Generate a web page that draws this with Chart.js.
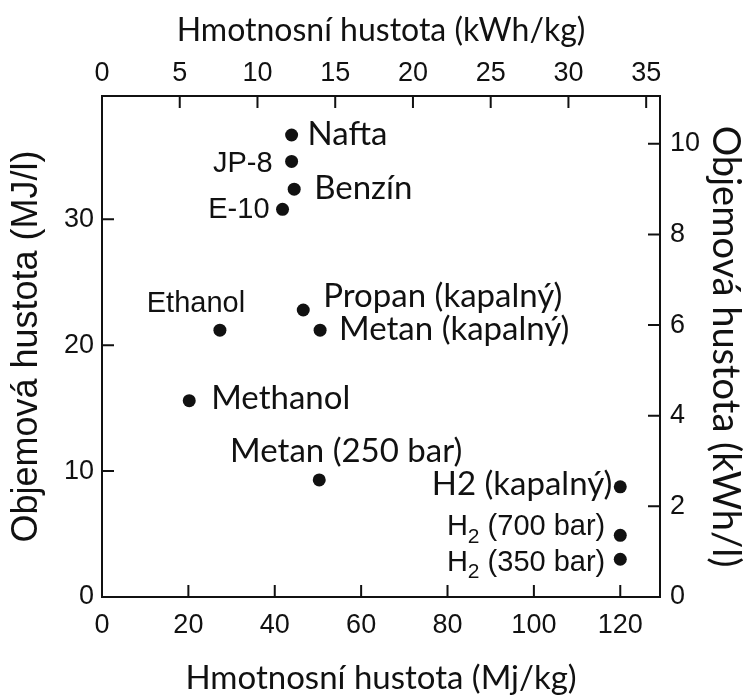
<!DOCTYPE html>
<html lang="cs">
<head>
    <meta charset="UTF-8">
    <title>Hustota energie paliv</title>
    <script src="https://cdn.jsdelivr.net/npm/chart.js"></script>
    <style>
        body { margin: 0; background: #fff; }
        #wrap { width: 748px; height: 698px; }
    </style>
</head>
<body>
    <div id="wrap"><canvas id="chart" width="748" height="698"></canvas></div>

    <script>
        // data (MJ/kg, MJ/l)
        const fuels = ['Nafta', 'JP-8', 'Benzín', 'E-10', 'Propan (kapalný)', 'Ethanol',
                       'Metan (kapalný)', 'Methanol', 'Metan (250 bar)', 'H2 (kapalný)',
                       'H₂ (700 bar)', 'H₂ (350 bar)'];
        const massDensity = [43.9, 43.9, 44.5, 41.8, 46.6, 27.3, 50.5, 20.2, 50.3, 120, 120, 120];
        const volumeDensity = [36.7, 34.6, 32.4, 30.8, 22.8, 21.2, 21.2, 15.6, 9.3, 8.75, 4.9, 3.0];

        const xTicks = [0, 20, 40, 60, 80, 100, 120];
        const x2Ticks = [0, 5, 10, 15, 20, 25, 30, 35];
        const yTicks = [0, 10, 20, 30];
        const y2Ticks = [0, 2, 4, 6, 8, 10];

        const xMax = 129.2;
        const yMax = 39.8;
        const MJ_PER_KWH = 3.6;

        const SANS = '"Liberation Sans", Arial, sans-serif';
        const CAL = 'Lato, "Open Sans", sans-serif';
        const INK = '#111';
        const TICK = 12;

        // where each label sits relative to its point (dx, baseline dy)
        const labelStyle = [
            { dx: 16, dy: 10, align: 'left', family: CAL, size: 33 },
            { dx: -19, dy: 11, align: 'right', family: SANS, size: 29 },
            { dx: 20, dy: 10, align: 'left', family: CAL, size: 33 },
            { dx: -13, dy: 9, align: 'right', family: SANS, size: 29 },
            { dx: 20, dy: -3, align: 'left', family: CAL, size: 33 },
            { dx: -24, dy: -18, align: 'center', family: SANS, size: 29 },
            { dx: 19, dy: 10, align: 'left', family: CAL, size: 33 },
            { dx: 22, dy: 8, align: 'left', family: CAL, size: 33 },
            { dx: 27, dy: -18, align: 'center', family: CAL, size: 33 },
            { dx: -8, dy: 8, align: 'right', family: CAL, size: 33 },
            { dx: -15, dy: 0, align: 'right', family: SANS, size: 29 },
            { dx: -15, dy: 12, align: 'right', family: SANS, size: 29 }
        ];

        function drawLabel(ctx, text, x, y, st) {
            const main = st.size + 'px ' + st.family;
            const parts = text.split('₂');
            if (parts.length === 1) {
                ctx.font = main;
                ctx.textAlign = st.align;
                ctx.fillText(text, x, y);
                return;
            }
            // H with a real subscript 2
            const sub = Math.round(st.size * 0.72) + 'px ' + st.family;
            ctx.font = main;
            const w0 = ctx.measureText(parts[0]).width;
            const w2 = ctx.measureText(parts[1]).width;
            ctx.font = sub;
            const w1 = ctx.measureText('2').width;
            const total = w0 + w1 + w2;
            let sx = x;
            if (st.align === 'right') sx = x - total;
            if (st.align === 'center') sx = x - total / 2;
            ctx.textAlign = 'left';
            ctx.font = main;
            ctx.fillText(parts[0], sx, y);
            ctx.font = sub;
            ctx.fillText('2', sx + w0, y + st.size * 0.25);
            ctx.font = main;
            ctx.fillText(parts[1], sx + w0 + w1, y);
        }

        const pointLabels = {
            id: 'pointLabels',
            afterDatasetsDraw(chart) {
                const ctx = chart.ctx;
                const meta = chart.getDatasetMeta(0);
                ctx.save();
                ctx.fillStyle = INK;
                ctx.textBaseline = 'alphabetic';
                meta.data.forEach((pt, i) => {
                    const st = labelStyle[i];
                    drawLabel(ctx, fuels[i], pt.x + st.dx, pt.y + st.dy, st);
                });
                ctx.restore();
            }
        };

        // tick marks pointing into the plot, on all four sides
        const innerTicks = {
            id: 'innerTicks',
            afterDraw(chart) {
                const ctx = chart.ctx;
                const a = chart.chartArea;
                const s = chart.scales;
                ctx.save();
                ctx.strokeStyle = INK;
                ctx.lineWidth = 2;
                ctx.beginPath();
                s.x.ticks.forEach(t => {
                    const p = s.x.getPixelForValue(t.value);
                    if (p <= a.left + 1 || p >= a.right - 1) return;
                    ctx.moveTo(p, a.bottom); ctx.lineTo(p, a.bottom - TICK);
                });
                s.x2.ticks.forEach(t => {
                    const p = s.x2.getPixelForValue(t.value);
                    if (p <= a.left + 1 || p >= a.right - 1) return;
                    ctx.moveTo(p, a.top); ctx.lineTo(p, a.top + TICK);
                });
                s.y.ticks.forEach(t => {
                    const p = s.y.getPixelForValue(t.value);
                    if (p >= a.bottom - 1 || p <= a.top + 1) return;
                    ctx.moveTo(a.left, p); ctx.lineTo(a.left + TICK, p);
                });
                s.y2.ticks.forEach(t => {
                    const p = s.y2.getPixelForValue(t.value);
                    if (p >= a.bottom - 1 || p <= a.top + 1) return;
                    ctx.moveTo(a.right, p); ctx.lineTo(a.right - TICK, p);
                });
                ctx.stroke();
                ctx.restore();
            }
        };

        function axis(position, min, max, tickList, size, title, titleFont, titlePad, pad) {
            return {
                type: 'linear',
                position: position,
                min: min,
                max: max,
                afterBuildTicks: sc => { sc.ticks = tickList.map(v => ({ value: v })); },
                afterFit: sc => {
                    if (position === 'top' || position === 'bottom') sc.height = size;
                    else sc.width = size;
                },
                grid: { display: false, drawTicks: false },
                border: { display: true, color: INK, width: 2 },
                ticks: {
                    color: INK,
                    font: { family: SANS, size: 27 },
                    padding: pad,
                    maxRotation: 0,
                    autoSkip: false
                },
                title: {
                    display: true,
                    text: title,
                    color: INK,
                    font: titleFont,
                    padding: titlePad
                }
            };
        }

        new Chart(document.getElementById('chart'), {
            type: 'scatter',
            data: {
                datasets: [{
                    data: massDensity.map((m, i) => ({ x: m, y: volumeDensity[i] })),
                    backgroundColor: INK,
                    borderWidth: 0,
                    pointRadius: 6.5,
                    pointHoverRadius: 6.5
                }]
            },
            options: {
                responsive: false,
                animation: false,
                layout: { padding: 0 },
                plugins: { legend: { display: false }, tooltip: { enabled: false } },
                scales: {
                    x: axis('bottom', 0, xMax, xTicks, 101, 'Hmotnosní hustota (Mj/kg)',
                            { family: CAL, size: 33 }, { top: 0, bottom: 0 }, 12),
                    x2: axis('top', 0, xMax / MJ_PER_KWH, x2Ticks, 96, 'Hmotnosní hustota (kWh/kg)',
                             { family: CAL, size: 32 }, { top: 11, bottom: 0 }, 6),
                    y: axis('left', 0, yMax, yTicks, 102, 'Objemová hustota (MJ/l)',
                            { family: SANS, size: 36 }, { top: 5, bottom: 0 }, 8),
                    y2: axis('right', 0, yMax / MJ_PER_KWH, y2Ticks, 88, 'Objemová hustota (kWh/l)',
                             { family: CAL, size: 38 }, { top: 0, bottom: 0 }, 10)
                }
            },
            plugins: [pointLabels, innerTicks]
        });
    </script>
</body>
</html>
